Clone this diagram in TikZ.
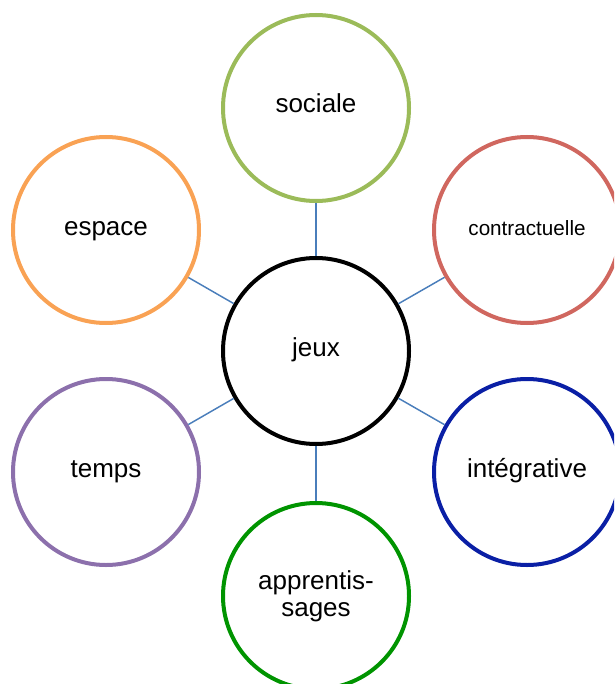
\documentclass[tikz,border=0pt]{standalone}
\usepackage{fontspec}
\setmainfont{Liberation Sans}

\definecolor{vertclair}{HTML}{9BBB59}
\definecolor{rouge}{HTML}{D0675F}
\definecolor{bleu}{HTML}{0A1FA5}
\definecolor{vert}{HTML}{009400}
\definecolor{violet}{HTML}{8C70AC}
\definecolor{orange}{HTML}{F9A254}
\definecolor{lien}{HTML}{4A7EBB}

\begin{document}
\begin{tikzpicture}[x=0.75pt,y=-0.75pt,
		rond/.style={circle,draw,line width=3pt,minimum size=139.5pt,inner sep=0pt,
			font=\fontsize{19.5}{20.5}\selectfont},
		mot/.style={text height=0.75em,text depth=0pt},
		lien/.style={draw=lien,line width=1.1pt}]
		\clip (0,0) rectangle (614,684);
		
		% noeud central
		\node[rond,mot,draw=black] (jeux) at (316,351) {jeux};
		
		% noeuds autour
		\node[rond,mot,draw=vertclair] (sociale) at (316,108) {sociale};
		\node[rond,mot,draw=rouge,font=\fontsize{15.5}{16}\selectfont] (contractuelle) at (527,230) {contractuelle};
		\node[rond,mot,draw=bleu] (integrative) at (527,472) {intégrative};
		\node[rond,draw=vert,align=center] (apprentissages) at (316,596) {apprentis-\\sages};
		\node[rond,mot,draw=violet] (temps) at (106,472) {temps};
		\node[rond,mot,draw=orange] (espace) at (106,230) {espace};
		
		\foreach \X in {sociale,contractuelle,integrative,apprentissages,temps,espace} {
			\draw [lien] (jeux) -- (\X);
		}
	\end{tikzpicture}
\end{document}
